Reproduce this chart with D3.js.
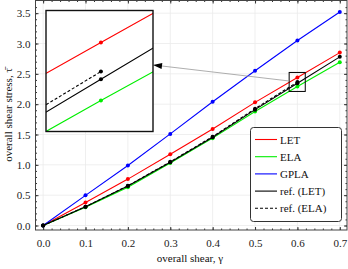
<!DOCTYPE html>
<html>
<head>
<meta charset="utf-8">
<script src="https://cdn.jsdelivr.net/npm/d3@7"></script>
<style>
  body { margin: 0; background: #fff; }
  svg { display: block; font-family: "Liberation Serif", "DejaVu Serif", serif; }
</style>
</head>
<body>
<div id="chart"></div>
<script>
const width = 348
const height = 269

// data
const gamma = [0, 0.1, 0.2, 0.3, 0.4, 0.5, 0.6, 0.7]
const gammaRefEla = [0, 0.1, 0.2, 0.3, 0.4, 0.5, 0.6]
const letVals = [0, 0.38, 0.765, 1.176, 1.59, 2.03, 2.44, 2.85]
const elaVals = [0, 0.30, 0.63, 1.03, 1.44, 1.88, 2.29, 2.69]
const gplaVals = [0, 0.497, 0.99, 1.51, 2.04, 2.55, 3.05, 3.52]
const refLetVals = [0, 0.31, 0.65, 1.044, 1.456, 1.91, 2.345, 2.78]
const refElaVals = [0, 0.31, 0.655, 1.05, 1.465, 1.925, 2.365]

const xTicks = [0, 0.1, 0.2, 0.3, 0.4, 0.5, 0.6, 0.7]
const yTicks = [0, 0.5, 1.0, 1.5, 2.0, 2.5, 3.0, 3.5]
const zoomX = [0.5805, 0.6185]
const zoomY = [2.21, 2.523]

const series = [
  {name: "LET", x: gamma, y: letVals, color: "#ff0000", dash: null},
  {name: "ELA", x: gamma, y: elaVals, color: "#00ee00", dash: null},
  {name: "GPLA", x: gamma, y: gplaVals, color: "#0000ff", dash: null},
  {name: "ref. (LET)", x: gamma, y: refLetVals, color: "#000000", dash: null},
  {name: "ref. (ELA)", x: gammaRefEla, y: refElaVals, color: "#000000", dash: "3,2"}
]

const svg = d3.select('#chart')
  .append("svg")
  .attr("width", width)
  .attr("height", height);

const x = d3.scaleLinear().domain([-0.018, 0.717]).range([35.5, 347]);
const y = d3.scaleLinear().domain([-0.074, 3.709]).range([230, 0.5]);

// grid
svg.append("g").selectAll("line").data(xTicks).enter().append("line")
  .attr("x1", d => x(d)).attr("x2", d => x(d))
  .attr("y1", y.range()[0]).attr("y2", y.range()[1])
  .attr("stroke", "#ebebeb").attr("stroke-width", 0.8);
svg.append("g").selectAll("line").data(yTicks).enter().append("line")
  .attr("y1", d => y(d)).attr("y2", d => y(d))
  .attr("x1", x.range()[0]).attr("x2", x.range()[1])
  .attr("stroke", "#ebebeb").attr("stroke-width", 0.8);

// axes, ticks inside on all four sides
const xMinor = d3.range(0, 0.7001, 0.02)
const yMinor = d3.range(0, 3.7, 0.1)
const axisStyle = g => {
  g.select(".domain").remove();
  g.selectAll(".tick line").attr("stroke", "#333");
  g.selectAll("text").attr("font-size", 11).attr("fill", "#222")
    .attr("font-family", "Liberation Serif, serif");
}
svg.append("g").attr("transform", `translate(0,${y.range()[0]})`)
  .call(d3.axisBottom(x).tickValues(xMinor).tickSize(-1.5).tickFormat(""))
  .call(axisStyle);
svg.append("g").attr("transform", `translate(0,${y.range()[0]})`)
  .call(d3.axisBottom(x).tickValues(xTicks).tickSize(-3).tickPadding(9).tickFormat(d3.format(".1f")))
  .call(axisStyle);
svg.append("g").attr("transform", `translate(0,${y.range()[1]})`)
  .call(d3.axisTop(x).tickValues(xMinor).tickSize(-1.5).tickFormat(""))
  .call(axisStyle);
svg.append("g").attr("transform", `translate(0,${y.range()[1]})`)
  .call(d3.axisTop(x).tickValues(xTicks).tickSize(-3).tickFormat(""))
  .call(axisStyle);
svg.append("g").attr("transform", `translate(${x.range()[0]},0)`)
  .call(d3.axisLeft(y).tickValues(yMinor).tickSize(-1.5).tickFormat(""))
  .call(axisStyle);
svg.append("g").attr("transform", `translate(${x.range()[0]},0)`)
  .call(d3.axisLeft(y).tickValues(yTicks).tickSize(-3).tickPadding(5).tickFormat(d3.format(".1f")))
  .call(axisStyle);
svg.append("g").attr("transform", `translate(${x.range()[1]},0)`)
  .call(d3.axisRight(y).tickValues(yMinor).tickSize(-1.5).tickFormat(""))
  .call(axisStyle);
svg.append("g").attr("transform", `translate(${x.range()[1]},0)`)
  .call(d3.axisRight(y).tickValues(yTicks).tickSize(-3).tickFormat(""))
  .call(axisStyle);

svg.append("rect")
  .attr("x", x.range()[0]).attr("y", y.range()[1])
  .attr("width", x.range()[1] - x.range()[0])
  .attr("height", y.range()[0] - y.range()[1])
  .attr("fill", "none").attr("stroke", "#444").attr("stroke-width", 1);

// draw all series into a group with given scales
function drawSeries(g, xs, ys, r) {
  series.forEach(s => {
    const pts = s.x.map((d, i) => [d, s.y[i]]);
    g.append("path")
      .datum(pts)
      .attr("fill", "none")
      .attr("stroke", s.color)
      .attr("stroke-width", 1.1)
      .attr("stroke-dasharray", s.dash)
      .attr("d", d3.line().x(d => xs(d[0])).y(d => ys(d[1])));
    g.selectAll(null).data(pts).enter().append("circle")
      .attr("cx", d => xs(d[0])).attr("cy", d => ys(d[1]))
      .attr("r", r).attr("fill", s.color);
  });
}
drawSeries(svg.append("g"), x, y, 2);

// zoom rectangle in the main plot
svg.append("rect")
  .attr("x", x(zoomX[0])).attr("y", y(zoomY[1]))
  .attr("width", x(zoomX[1]) - x(zoomX[0]))
  .attr("height", y(zoomY[0]) - y(zoomY[1]))
  .attr("fill", "none").attr("stroke", "#000").attr("stroke-width", 1);

// inset
const ix = d3.scaleLinear().domain(zoomX).range([46, 153]);
const iy = d3.scaleLinear().domain(zoomY).range([131.5, 10.5]);
svg.append("defs").append("clipPath").attr("id", "insetClip")
  .append("rect").attr("x", 46).attr("y", 10.5).attr("width", 107).attr("height", 121);
svg.append("rect").attr("x", 46).attr("y", 10.5).attr("width", 107).attr("height", 121)
  .attr("fill", "#fff");
drawSeries(svg.append("g").attr("clip-path", "url(#insetClip)"), ix, iy, 2);
svg.append("rect").attr("x", 46).attr("y", 10.5).attr("width", 107).attr("height", 121)
  .attr("fill", "none").attr("stroke", "#111").attr("stroke-width", 1.4);

// arrow from zoom rect to inset
const frac = 0.45
const ax0 = x(zoomX[0]), ay0 = y(zoomY[1]) + frac * (y(zoomY[0]) - y(zoomY[1]));
const ax1 = 153, ay1 = 10.5 + frac * 121;
svg.append("line")
  .attr("x1", ax0).attr("y1", ay0).attr("x2", ax1 + 8).attr("y2", ay1 + 8 * (ay0 - ay1) / (ax0 - ax1))
  .attr("stroke", "#999").attr("stroke-width", 0.8);
const ang = Math.atan2(ay0 - ay1, ax0 - ax1);
const headL = 9, headW = 3;
const bx = ax1 + headL * Math.cos(ang), by = ay1 + headL * Math.sin(ang);
svg.append("path")
  .attr("d", `M${ax1},${ay1}L${bx - headW * Math.sin(ang)},${by + headW * Math.cos(ang)}L${bx + headW * Math.sin(ang)},${by - headW * Math.cos(ang)}Z`)
  .attr("fill", "#000");

// legend
const legend = svg.append("g").attr("transform", "translate(250,127)");
legend.append("rect")
  .attr("x", 0.5).attr("y", 0.5).attr("width", 91).attr("height", 94)
  .attr("rx", 3).attr("fill", "#fff").attr("stroke", "#333").attr("stroke-width", 1);
series.forEach((s, i) => {
  const ly = 12.5 + i * 17.2;
  legend.append("line")
    .attr("x1", 5).attr("x2", 27).attr("y1", ly).attr("y2", ly)
    .attr("stroke", s.color).attr("stroke-width", 1.1)
    .attr("stroke-dasharray", s.dash);
  legend.append("text")
    .attr("x", 30).attr("y", ly + 4)
    .attr("font-size", 11).attr("fill", "#111")
    .text(s.name);
});

// axis titles
svg.append("text")
  .attr("x", 190).attr("y", 262)
  .attr("text-anchor", "middle").attr("font-size", 11).attr("fill", "#111")
  .text("overall shear, γ");
svg.append("text")
  .attr("transform", "translate(11.5,115) rotate(-90)")
  .attr("text-anchor", "middle").attr("font-size", 11).attr("fill", "#111")
  .text("overall shear stress, τ\u0304");
</script>
</body>
</html>
